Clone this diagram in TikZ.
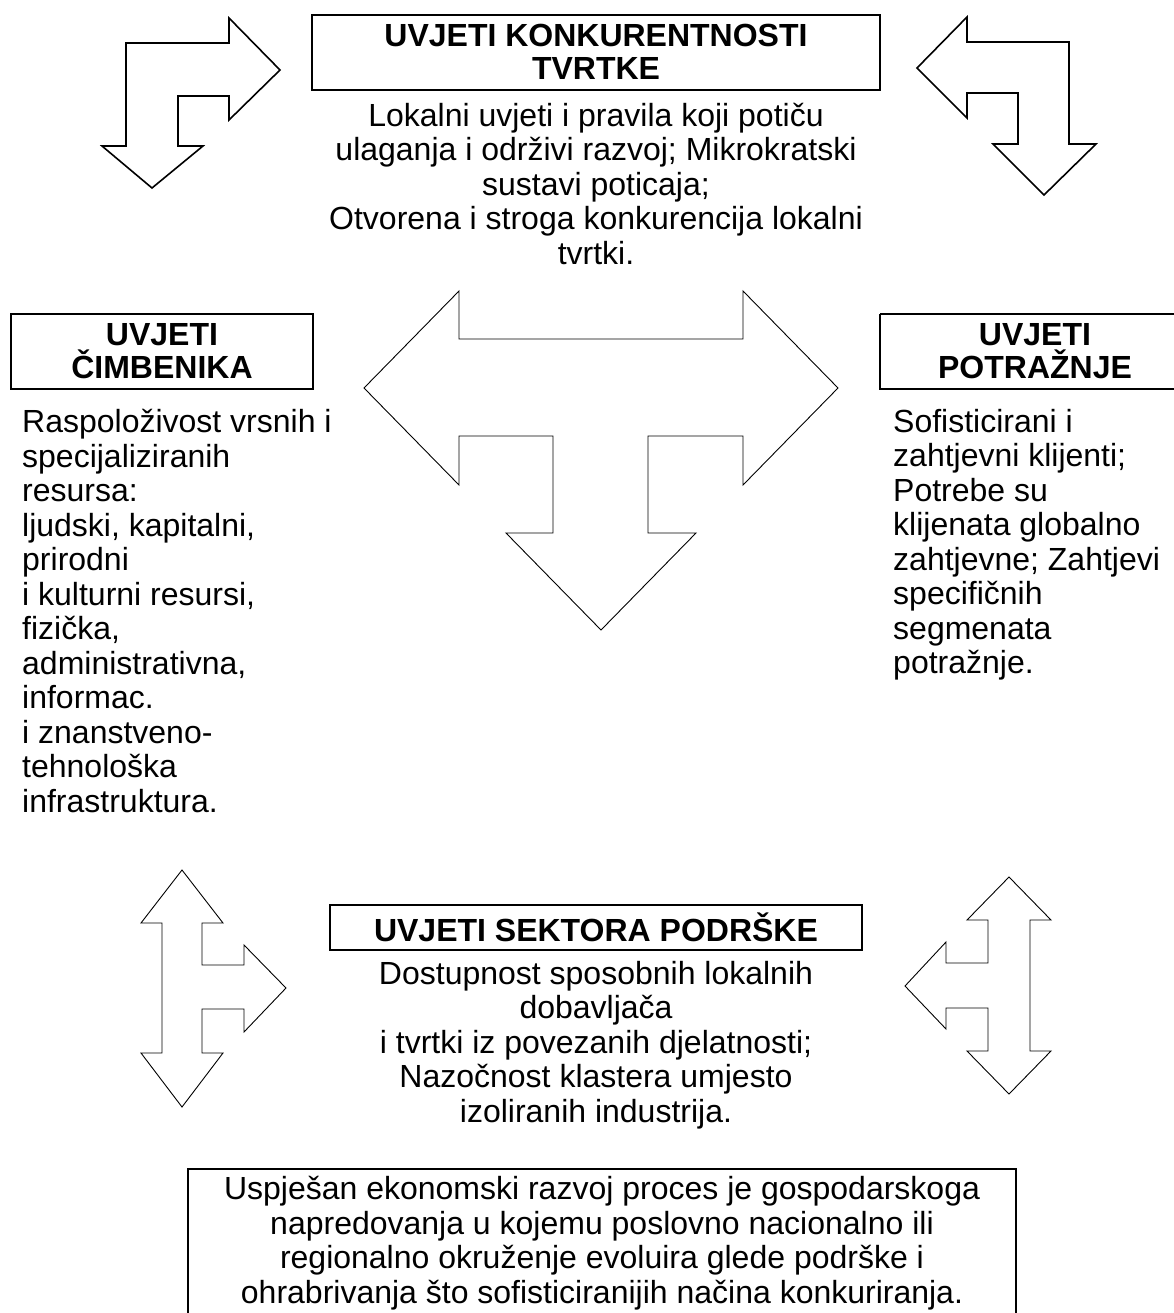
\documentclass[tikz,border=0pt]{standalone}
\usepackage{fontspec}
\setmainfont{Liberation Sans}
\begin{document}
\begin{tikzpicture}[x=1pt,y=-1pt,
  titlebox/.style={draw,line width=1.6pt},
  boxtitle/.style={font=\fontsize{32}{33}\selectfont\bfseries,align=center,inner sep=0pt},
  bodytext/.style={font=\fontsize{32}{34.5}\selectfont,inner sep=0pt},
  bigarrow/.style={draw,line width=1.6pt,line join=miter},
  thinarrow/.style={draw,line width=0.9pt,line join=miter}]
\useasboundingbox (0,0) rectangle (1173,1313);

% top box
\draw[titlebox] (312,15) rectangle (880,90);
\node[boxtitle] (ttop) at (596,52) {UVJETI KONKURENTNOSTI\\TVRTKE};
\node[bodytext,align=center,anchor=north] (btop) at (596,103)
  {Lokalni uvjeti i pravila koji potiču\\ulaganja i održivi razvoj; Mikrokratski\\sustavi poticaja;\\Otvorena i stroga konkurencija lokalni\\tvrtki.};

% top-left arrow
\draw[bigarrow] (126,146) -- (126,43) -- (229,43) -- (229,18) -- (280,70) -- (229,120) -- (229,96) -- (178,96) -- (178,146) -- (203,146) -- (152,188) -- (102,146) -- cycle;
% top-right arrow
\draw[bigarrow] (1069,144) -- (1069,42) -- (967,42) -- (967,17) -- (917,68) -- (967,118) -- (967,93) -- (1018,93) -- (1018,144) -- (993,144) -- (1044,195) -- (1096,144) -- cycle;

% left box
\draw[titlebox] (11,314) rectangle (313,389);
\node[boxtitle] (tleft) at (162,351) {UVJETI\\ČIMBENIKA};
\node[bodytext,align=left,anchor=north west] (bleft) at (22,409)
  {Raspoloživost vrsnih i\\specijaliziranih\\resursa:\\ljudski, kapitalni,\\prirodni\\i kulturni resursi,\\fizička,\\administrativna,\\informac.\\i znanstveno-\\tehnološka\\infrastruktura.};

% right box
\draw[titlebox] (880,314) -- (1180,314) (1180,389) -- (880,389) -- (880,314);
\node[boxtitle] (tright) at (1035,351) {UVJETI\\POTRAŽNJE};
\node[bodytext,align=left,anchor=north west] (bright) at (893,409)
  {Sofisticirani i\\zahtjevni klijenti;\\Potrebe su\\klijenata globalno\\zahtjevne; Zahtjevi\\specifičnih\\segmenata\\potražnje.};

% center arrow
\draw[thinarrow] (364,388) -- (459,291) -- (459,339) -- (743,339) -- (743,291) -- (838,388) -- (743,485) -- (743,436) -- (648,436) -- (648,533) -- (696,533) -- (601,630) -- (506,533) -- (553,533) -- (553,436) -- (459,436) -- (459,485) -- cycle;

% bottom-left arrow
\draw[thinarrow] (182,870) -- (223,923) -- (202,923) -- (202,965) -- (244,965) -- (244,945) -- (286,988) -- (244,1032) -- (244,1009) -- (202,1009) -- (202,1053) -- (223,1053) -- (182,1107) -- (141,1053) -- (162,1053) -- (162,923) -- (141,923) -- cycle;
% bottom-right arrow
\draw[thinarrow] (1009,877) -- (1051,920) -- (1030,920) -- (1030,1051) -- (1051,1051) -- (1009,1094) -- (967,1051) -- (988,1051) -- (988,1008) -- (946,1008) -- (946,1029) -- (905,986) -- (946,942) -- (946,963) -- (988,963) -- (988,920) -- (967,920) -- cycle;

% middle box
\draw[titlebox] (330,905) rectangle (862,950);
\node[boxtitle] (tmid) at (596,927) {UVJETI SEKTORA PODRŠKE};
\node[bodytext,align=center,anchor=north] (bmid) at (596,961)
  {Dostupnost sposobnih lokalnih\\dobavljača\\i tvrtki iz povezanih djelatnosti;\\Nazočnost klastera umjesto\\izoliranih industrija.};

% final box
\draw[titlebox] (188,1330) -- (188,1169) -- (1016,1169) -- (1016,1330);
\node[bodytext,align=center,anchor=north] (bfinal) at (602,1176)
  {Uspješan ekonomski razvoj proces je gospodarskoga\\napredovanja u kojemu poslovno nacionalno ili\\regionalno okruženje evoluira glede podrške i\\ohrabrivanja što sofisticiranijih načina konkuriranja.};
\end{tikzpicture}
\end{document}
